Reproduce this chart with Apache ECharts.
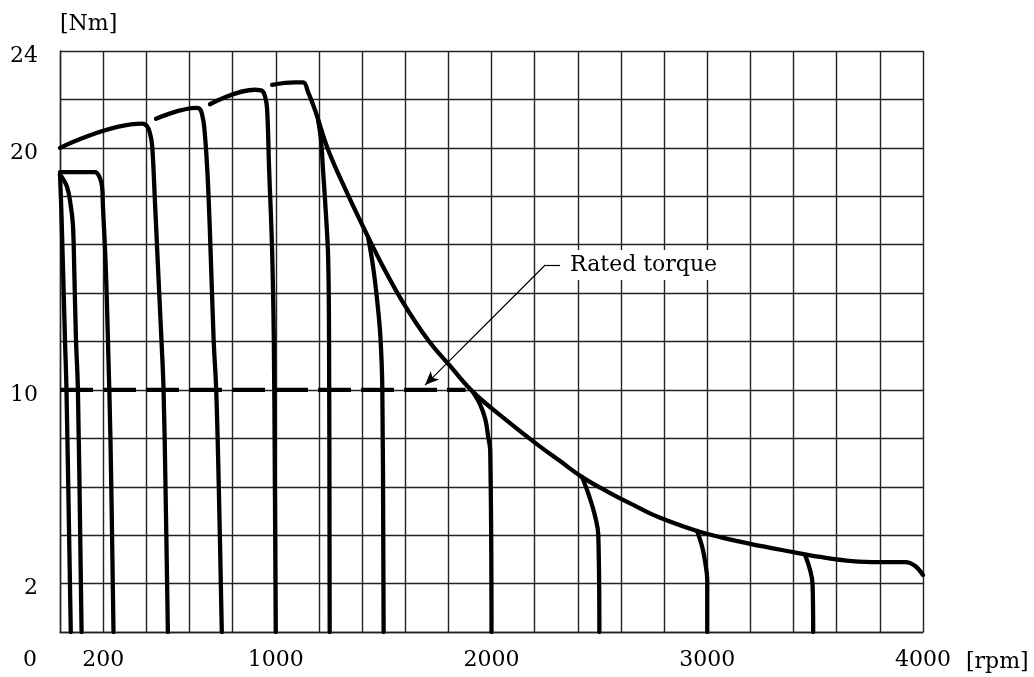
<!DOCTYPE html>
<html><head><meta charset="utf-8">
<script src="https://cdn.jsdelivr.net/npm/echarts@6/dist/echarts.min.js"></script>
<style>html,body{margin:0;padding:0;background:#fff}#c{width:1034px;height:677px}</style>
</head><body><div id="c"></div>
<script>
// Tick labels
const xTickLabels = {0:'0', 200:'200', 1000:'1000', 2000:'2000', 3000:'3000', 4000:'4000'};
const yTickLabels = {2:'2', 10:'10', 20:'20', 24:'24'};

// Speed-torque curves: [rpm, Nm]
const curve50   = [[0,18.9],[7,17.2],[23,12.1],[30,10.0],[50,0]];
const curve100  = [[0,18.9],[32,18.4],[50,17.6],[60,16.8],[66,15.0],[74,12.1],[83,10.0],[100,0]];
const curve250  = [[0,19.0],[162,19.0],[185,18.75],[195,18.4],[199,17.6],[212,15.1],[222,12.1],[234,7.9],[248,0]];
const curve500  = [[0,20.0],[380,21.0],[403,20.9],[417,20.6],[427,20.1],[440,17.8],[454,15.1],[470,12.1],[480,10.0],[489,6.0],[500,0]];
const curve750  = [[445,21.2],[635,21.65],[649,21.6],[658,21.4],[668,20.9],[682,19.2],[695,16.5],[712,12.1],[724,10.0],[736,6.0],[750,0]];
const curve1000 = [[695,21.8],[904,22.4],[937,22.35],[951,22.1],[960,21.6],[969,19.2],[983,15.8],[991,12.1],[996,6.0],[1000,0]];
const curve1250 = [[1196,21.15],[1210,20.3],[1219,19.1],[1233,17.2],[1243,15.4],[1247,12.1],[1250,0]];
const curve1500 = [[1428,16.3],[1451,15.1],[1470,13.7],[1485,12.2],[1494,10.0],[1500,0]];
const curve2000 = [[1915,9.9],[1947,9.4],[1971,8.8],[1984,8.1],[1994,7.5],[2000,0]];
const curve2500 = [[2420,6.4],[2457,5.5],[2481,4.75],[2495,4.0],[2500,0]];
const curve3000 = [[2953,4.17],[2977,3.5],[2991,2.85],[3000,2.15],[3000,0]];
const curve3500 = [[3454,3.17],[3477,2.55],[3488,2.0],[3491,0]];
const envelope  = [[983,22.6],[1090,22.7],[1127,22.7],[1150,22.3],[1182,21.56],[1243,19.91],[1331,18.13],[1428,16.32],[1498,15.08],[1586,13.67],[1706,12.06],[1808,10.99],[1915,9.91],[2073,8.72],[2216,7.72],[2318,7.06],[2420,6.40],[2550,5.74],[2657,5.25],[2773,4.75],[2953,4.17],[3060,3.92],[3199,3.64],[3399,3.30],[3524,3.10],[3672,2.93],[3802,2.89],[3918,2.89],[3964,2.73],[4000,2.35]];
const rated     = [[0,10],[1880,10]];
// Annotation "Rated torque" leader: [rpm, Nm]
const leaderKnee = [2249,15.16];
const leaderEnd  = [2318,15.16];
const leaderTip  = [1692,10.2];

const FONT = 'DejaVu Serif';
const gridColor = '#222';

function curve(name, data) {
  return {name, type:'line', data, symbol:'none', showSymbol:false, smooth:0.4,
    lineStyle:{color:'#000', width:4.3, cap:'round', join:'round'}, silent:true, z:3, animation:false};
}

const chart = echarts.init(document.getElementById('c'));
chart.setOption({
  animation:false,
  backgroundColor:'#fff',
  grid:{left:60, right:111, top:51, bottom:45, containLabel:false},
  xAxis:{type:'value', min:0, max:4000, interval:200,
    name:'[rpm]', nameLocation:'end', nameGap:43,
    nameTextStyle:{fontFamily:FONT, fontSize:22, color:'#000', verticalAlign:'top', padding:[19,0,0,0]},
    axisLine:{show:true, lineStyle:{color:gridColor, width:1.4}},
    axisTick:{show:false},
    splitLine:{show:true, lineStyle:{color:gridColor, width:1.4}},
    axisLabel:{showMinLabel:true, showMaxLabel:true, margin:17, fontFamily:FONT, fontSize:22, color:'#000',
      formatter:v => v === 0 ? '{z|0}' : (xTickLabels[v] || ''),
      rich:{z:{fontFamily:FONT, fontSize:22, color:'#000', padding:[0,60,0,0]}}}
  },
  yAxis:{type:'value', min:0, max:24, interval:2,
    name:'[Nm]', nameLocation:'end', nameGap:16,
    nameTextStyle:{fontFamily:FONT, fontSize:22, color:'#000', align:'left'},
    axisLine:{show:true, lineStyle:{color:gridColor, width:1.4}},
    axisTick:{show:false},
    splitLine:{show:true, lineStyle:{color:gridColor, width:1.4}},
    axisLabel:{showMinLabel:true, showMaxLabel:true, margin:22, fontFamily:FONT, fontSize:22, color:'#000',
      formatter:v => yTickLabels[v] ? '{a|' + yTickLabels[v] + '}' : '',
      rich:{a:{fontFamily:FONT, fontSize:22, color:'#000', padding:[10,0,0,0]}}}
  },
  series:[
    curve('50', curve50), curve('100', curve100), curve('250', curve250), curve('500', curve500),
    curve('750', curve750), curve('1000', curve1000), curve('1250', curve1250), curve('1500', curve1500),
    curve('2000', curve2000), curve('2500', curve2500), curve('3000', curve3000), curve('3500', curve3500),
    curve('envelope', envelope),
    {name:'rated', type:'line', data:rated, symbol:'none', showSymbol:false, silent:true, z:3,
      lineStyle:{color:'#000', width:4.3, type:[33,10], cap:'butt'},
      markLine:{silent:true, animation:false, symbol:['none','none'],
        lineStyle:{color:'#000', width:1.2, type:'solid'},
        label:{show:false},
        data:[
          [{coord:leaderKnee, symbol:'none'}, {coord:leaderTip, symbol:'arrow', symbolSize:[9,14]}],
          [{coord:leaderKnee, symbol:'none', label:{show:true, position:'end', distance:8, formatter:'Rated torque',
              fontFamily:FONT, fontSize:22, color:'#000', backgroundColor:'#fff', padding:[4,2,4,2]}},
           {coord:leaderEnd, symbol:'none', label:{show:true, position:'end', distance:8, formatter:'Rated torque',
              fontFamily:FONT, fontSize:22, color:'#000', backgroundColor:'#fff', padding:[4,2,4,2]}}]
        ]}
    }
  ]
});
</script></body></html>
